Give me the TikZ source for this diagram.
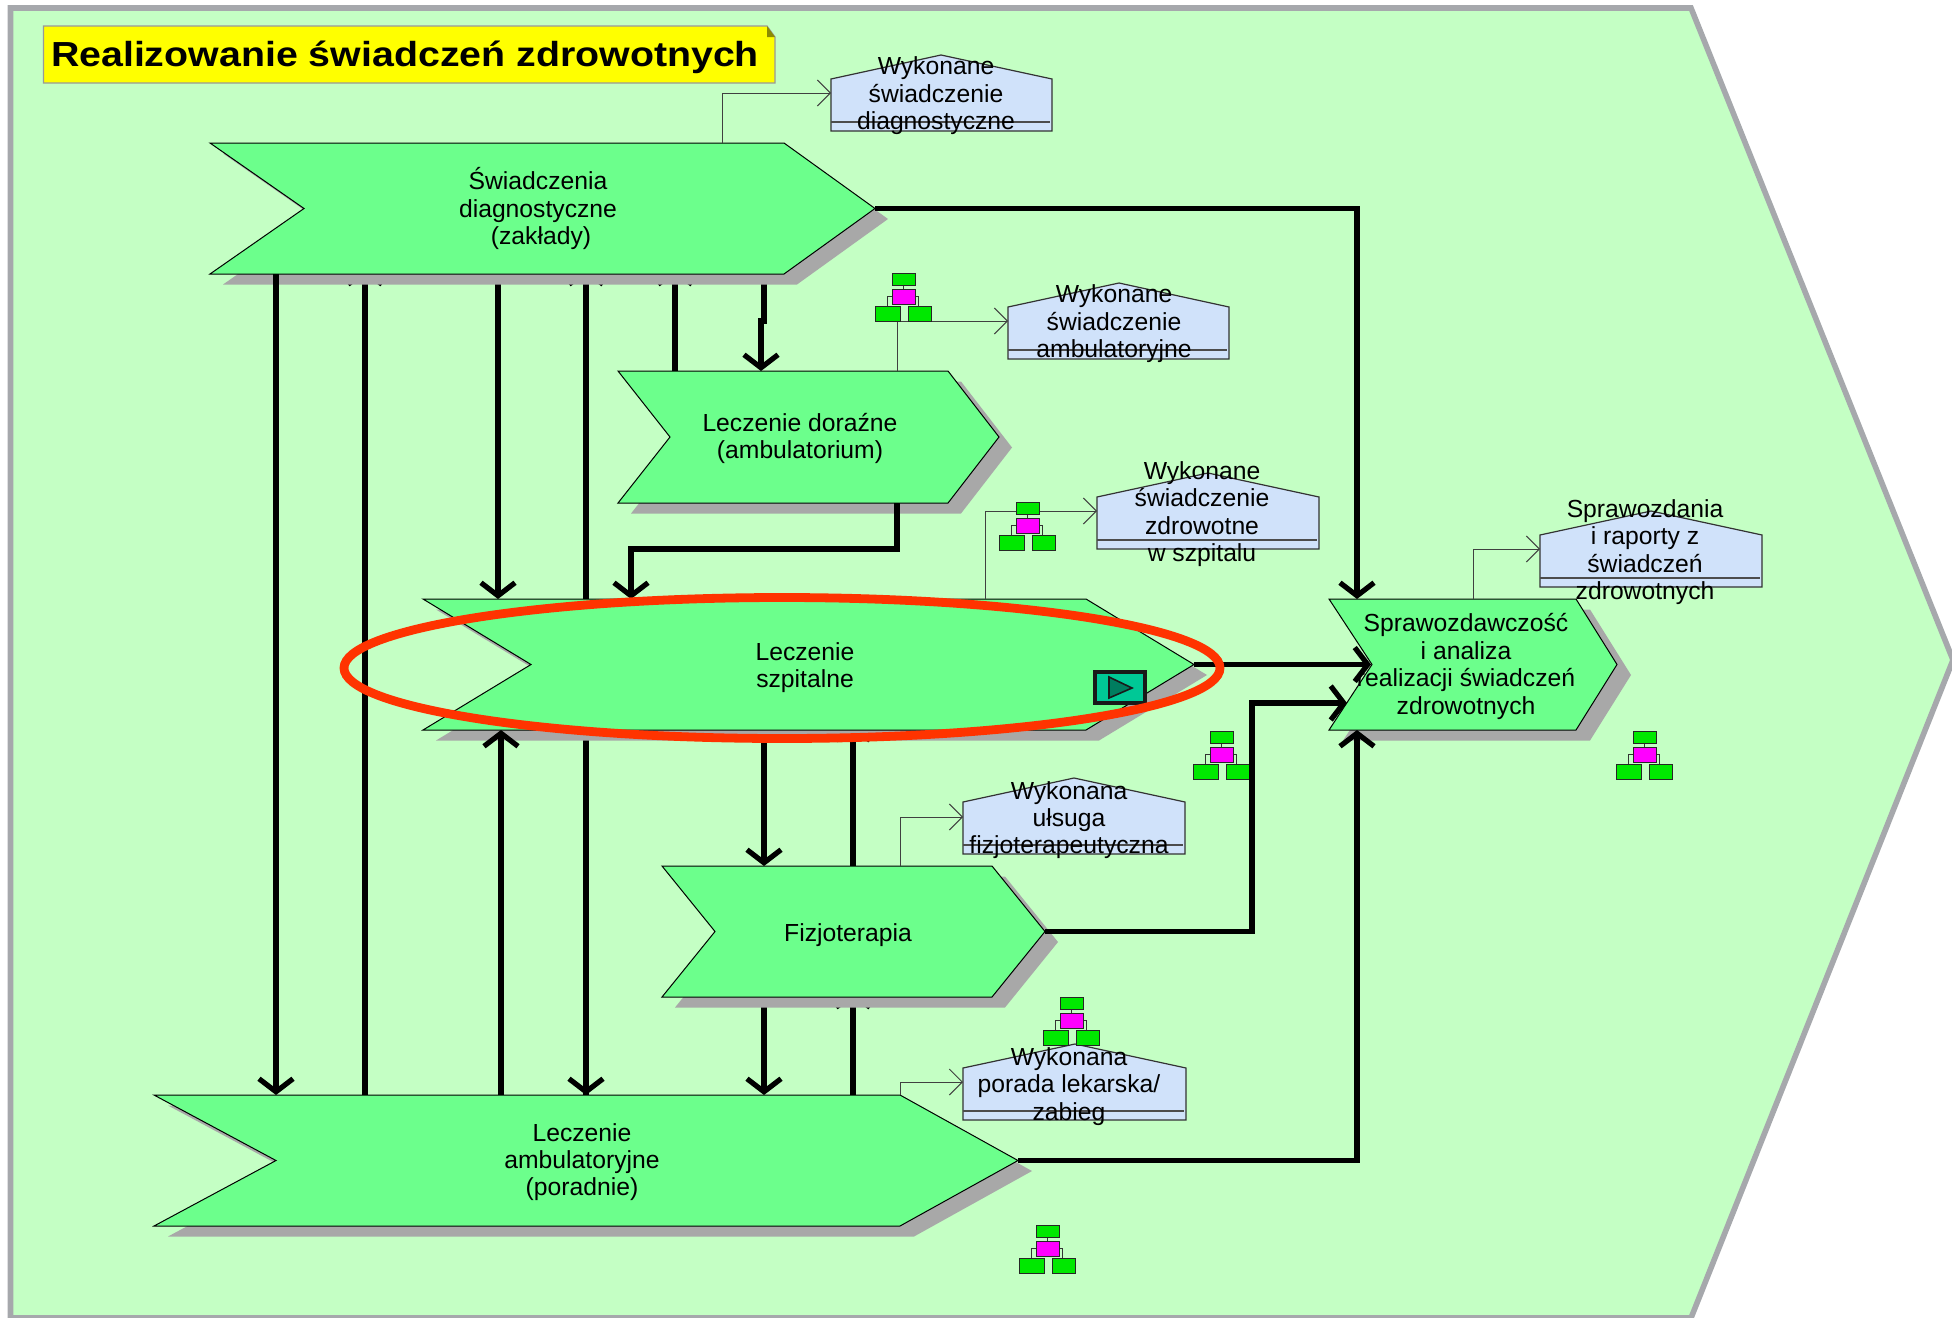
\documentclass[tikz,border=0pt]{standalone}
\usepackage{fontspec}
\setmainfont{Liberation Sans}
\usetikzlibrary{arrows.meta,fit,shapes.geometric}
\definecolor{bgreen}{HTML}{C4FFC4}
\definecolor{edgegray}{HTML}{A6A8AC}
\definecolor{shadowgray}{HTML}{A8A8A8}
\definecolor{chevgreen}{HTML}{6CFF8C}
\definecolor{houseblue}{HTML}{D0E2FA}
\definecolor{redring}{HTML}{FF3300}
\definecolor{orggreen}{HTML}{00E800}
\definecolor{orgpink}{HTML}{FF00FF}
\definecolor{markerteal}{HTML}{00C896}
\definecolor{markerdark}{HTML}{007D5F}
\definecolor{foldolive}{HTML}{8C8C00}
\definecolor{titleyellow}{HTML}{FFFF00}
\tikzset{
  anchorbox/.style={inner sep=0pt,outer sep=0pt},
  heavy/.style={line width=2.6pt,-{Straight Barb[length=6.5pt,width=17pt,line width=2.6pt]}},
  heavyhidden/.style={heavy,shorten >=-3pt},
  light/.style={line width=0.5pt,draw=black!75,-{Straight Barb[length=6.5pt,width=13pt,line width=0.5pt]}},
  chevfill/.style={fill=chevgreen,draw=black,line width=0.5pt},
  chevshadow/.style={fill=shadowgray,draw=none},
  housefill/.style={fill=houseblue,draw=black!80,line width=0.6pt},
  bodytext/.style={align=center,inner sep=0pt,font=\fontsize{12.35}{13.7}\selectfont},
  orgbox/.style={fill=orggreen,draw=black!85,line width=0.5pt},
  orgmid/.style={fill=orgpink,draw=black!85,line width=0.5pt},
  orgwire/.style={draw=black!80,line width=0.4pt},
}
% #1 left x, #2 notch x, #3 top-right x, #4 tip x, #5 top y, #6 bottom y, #7 shadow dx
\newcommand\chevshape[7]{%
  \pgfmathsetmacro\ymid{(#5+#6)/2}%
  \fill[chevshadow,shift={(#7,10.5)}] (#1,#5) -- (#3,#5) -- (#4,\ymid) -- (#3,#6) -- (#1,#6) -- (#2,\ymid) -- cycle;
  \filldraw[chevfill] (#1,#5) -- (#3,#5) -- (#4,\ymid) -- (#3,#6) -- (#1,#6) -- (#2,\ymid) -- cycle;
}
% #1 left, #2 right, #3 apex x, #4 apex y
\newcommand\houseshape[4]{%
  \pgfmathsetmacro\yshoulder{#4+24}\pgfmathsetmacro\ybottom{#4+76}\pgfmathsetmacro\yrule{#4+67}%
  \filldraw[housefill] (#1,\yshoulder) -- (#3,#4) -- (#2,\yshoulder) -- (#2,\ybottom) -- (#1,\ybottom) -- cycle;
  \draw[draw=black!70,line width=0.6pt] (#1,\yrule) -- ({#2-2},\yrule);
}
% org chart icon: top-left corner of the upper box
\newcommand\orgicon[2]{%
  \begin{scope}[shift={(#1,#2)}]
    \draw[orgwire] (11,11) -- (11,16) (0,23) -- (-5,23) -- (-5,33) (23,23) -- (26,23) -- (26,33);
    \filldraw[orgbox] (0,0) rectangle (23,12);
    \filldraw[orgmid] (0,16) rectangle (23,31);
    \filldraw[orgbox] (-17,33) rectangle (8,48);
    \filldraw[orgbox] (16,33) rectangle (39,48);
  \end{scope}
}
\begin{document}
\begin{tikzpicture}[x=0.5pt,y=-0.5pt]
\useasboundingbox (0,0) rectangle (1952,1317);
% background chevron
\filldraw[fill=bgreen,draw=edgegray,line width=2.8pt,line join=miter]
  (10.5,8) -- (1691,8) -- (1953,660) -- (1691,1318) -- (10.5,1318) -- cycle;

% named boxes of the shapes
\node[anchorbox,fit={(210,143)(875,274)}] (c1) {};
\node[anchorbox,fit={(618,371)(999,503)}] (c2) {};
\node[anchorbox,fit={(423,599)(1194,730)}] (c3) {};
\node[anchorbox,fit={(662,866)(1045,997)}] (c4) {};
\node[anchorbox,fit={(154,1095)(1018,1226)}] (c5) {};
\node[anchorbox,fit={(1329,599)(1617,730)}] (c6) {};
\node[anchorbox,fit={(831,55)(1052,131)}] (h1) {};
\node[anchorbox,fit={(1008,283)(1229,359)}] (h2) {};
\node[anchorbox,fit={(1097,473)(1319,549)}] (h3) {};
\node[anchorbox,fit={(1540,511)(1762,587)}] (h4) {};
\node[anchorbox,fit={(963,778)(1185,854)}] (h5) {};
\node[anchorbox,fit={(963,1044)(1186,1120)}] (h6) {};

% connectors that run behind the shapes and their shadows
\draw[heavyhidden] (365,0 |- c5.north) -- (365,0 |- c1.south);
\draw[heavy] (498,0 |- c1.south) -- (498,0 |- c3.north);
\draw[heavyhidden] (586,0 |- c5.north) -- (586,0 |- c1.south);
\draw[heavy] (586,0 |- c1.south) -- (586,0 |- c5.north);
\draw[heavyhidden] (675,0 |- c2.north) -- (675,0 |- c1.south);
\draw[heavy] (764,0 |- c1.south) -- (764,321) -- (761,321) -- (761,0 |- c2.north);
\draw[heavy] (764,0 |- c3.south) -- (764,0 |- c4.north);
\draw[heavy] (764,0 |- c4.south) -- (764,0 |- c5.north);
\draw[heavyhidden] (853,0 |- c4.north) -- (853,0 |- c3.south);
\draw[heavyhidden] (853,0 |- c5.north) -- (853,0 |- c4.south);

% process chevrons
\chevshape{210}{304}{784}{875}{143}{274}{13}
\chevshape{618}{670}{948}{999}{371}{503}{13}
\chevshape{423}{531}{1086}{1194}{599}{730}{13}
\chevshape{662}{715}{992}{1045}{866}{997}{13}
\chevshape{154}{276}{900}{1018}{1095}{1226}{14}
\chevshape{1329}{1372}{1576}{1617}{599}{730}{14}

% information objects
\houseshape{831}{1052}{941}{55}
\houseshape{1008}{1229}{1119}{283}
\houseshape{1097}{1319}{1208}{473}
\houseshape{1540}{1762}{1651}{511}
\houseshape{963}{1185}{1074}{778}
\houseshape{963}{1186}{1075}{1044}

% thin connectors to the information objects
\draw[light] (722,0 |- c1.north) -- (722,93) -- (h1.west |- 0,93);
\draw[light] (897,0 |- c2.north) -- (897,321) -- (h2.west |- 0,321);
\draw[light] (985,0 |- c3.north) -- (985,511) -- (h3.west |- 0,511);
\draw[light] (900,0 |- c4.north) -- (900,817) -- (h5.west |- 0,817);
\draw[light] (900,0 |- c5.north) -- (900,1082) -- (h6.west |- 0,1082);
\draw[light] (1473,0 |- c6.north) -- (1473,549) -- (h4.west |- 0,549);

% org chart icons
\orgicon{892}{273}
\orgicon{1016}{502}
\orgicon{1210}{731}
\orgicon{1633}{731}
\orgicon{1060}{997}
\orgicon{1036}{1225}

% texts
\node[bodytext] (t1) at (538,208.5) {Świadczenia\\diagnostyczne\\\hspace*{3pt}(zakłady)};
\node[bodytext] (t2) at (800,438.5) {Leczenie doraźne\\(ambulatorium)};
\node[bodytext] (t3) at (805,667.5) {Leczenie\\szpitalne};
\node[bodytext] (t4) at (848,935.5) {Fizjoterapia};
\node[bodytext] (t5) at (582,1162) {Leczenie\\ambulatoryjne\\(poradnie)};
\node[bodytext] (t6) at (1466,666.5) {Sprawozdawczość\\i analiza\\realizacji świadczeń\\zdrowotnych};
\node[bodytext] (th1) at (936,96) {Wykonane\\świadczenie\\diagnostyczne};
\node[bodytext] (th2) at (1114,324) {Wykonane\\świadczenie\\ambulatoryjne};
\node[bodytext] (th3) at (1202,514) {Wykonane\\świadczenie\\zdrowotne\\w szpitalu};
\node[bodytext] (th4) at (1645,552) {Sprawozdania\\i raporty z\\świadczeń\\zdrowotnych};
\node[bodytext] (th5) at (1069,820) {Wykonana\\ułsuga\\fizjoterapeutyczna};
\node[bodytext] (th6) at (1069,1086.5) {Wykonana\\porada lekarska/\\zabieg};

% heavy connectors on top of the shapes
\draw[heavy] (276,0 |- c1.south) -- (276,0 |- c5.north);
\draw[heavy] (501,0 |- c5.north) -- (501,0 |- c3.south);
\draw[heavy] (c1.east) -- (1357,0 |- c1.east) -- (1357,0 |- c6.north);
\draw[heavy] (897,0 |- c2.south) -- (897,549) -- (631,549) -- (631,0 |- c3.north);
\draw[heavy] (c3.east) -- (1371,0 |- c3.east);
\draw[heavy] (c4.east) -- (1252,0 |- c4.east) -- (1252,703) -- (1347,703);
\draw[heavy] (c5.east) -- (1357,0 |- c5.east) -- (1357,0 |- c6.south);

% process interface marker
\filldraw[fill=markerteal,draw=black!90,line width=2pt] (1095,672) rectangle (1145,703);
\filldraw[fill=markerdark,draw=black!90,line width=0.8pt] (1109,677) -- (1109,698) -- (1132,688) -- cycle;

% highlight ring
\node[anchorbox,draw=redring,line width=4.4pt,shape=ellipse,minimum width=438pt,minimum height=70.5pt] (ring) at (782,668) {};

% title
\filldraw[fill=titleyellow,draw=black!40,line width=0.6pt] (43.5,26) -- (767,26) -- (775,37) -- (775,83) -- (43.5,83) -- cycle;
\fill[fill=foldolive] (767,26) -- (775,37) -- (767,37) -- cycle;
\node[inner sep=0pt,font={\addfontfeature{FakeStretch=1.13}\fontsize{17.4}{20}\selectfont\bfseries}] (title) at (405,57.5) {Realizowanie świadczeń zdrowotnych};
\end{tikzpicture}
\end{document}
